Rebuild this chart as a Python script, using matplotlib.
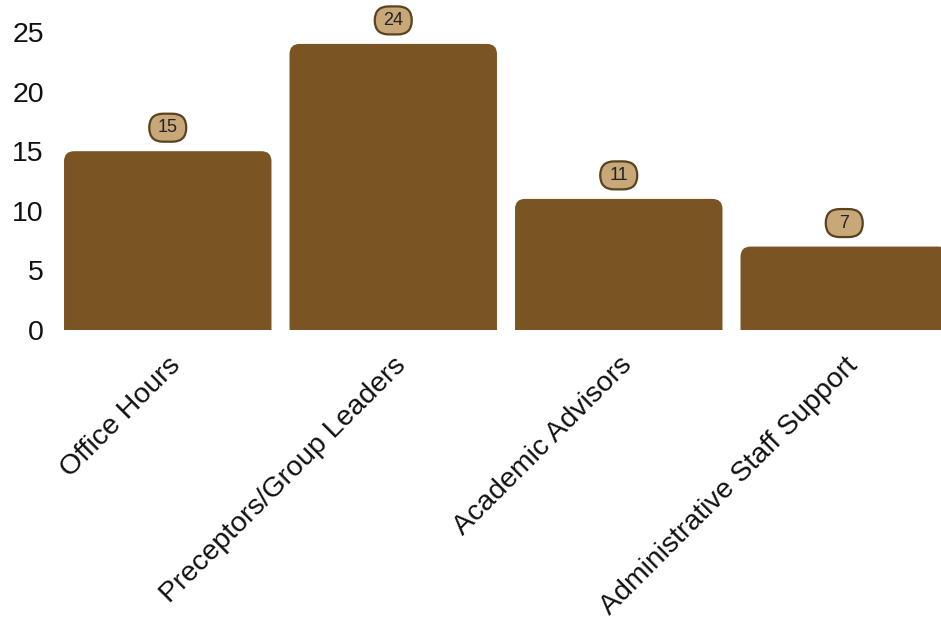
import numpy as np
import matplotlib.pyplot as plt
from matplotlib.path import Path
from matplotlib.patches import PathPatch, FancyBboxPatch
from matplotlib.transforms import ScaledTranslation

plt.rcParams['font.family'] = ['Liberation Sans', 'DejaVu Sans']

categories = ['Office Hours', 'Preceptors/Group Leaders', 'Academic Advisors',
              'Administrative Staff Support']
counts = [15, 24, 11, 7]

bar_color = '#7b5424'
box_face = '#c8a878'
box_edge = '#5a421e'


def rounded_top_bar(ax, x, h, w, rx, ry):
    # bar with rounded top corners, built in data coordinates
    l, r = x - w / 2, x + w / 2
    verts = [(l, 0), (l, h - ry), (l, h), (l + rx, h),
             (r - rx, h), (r, h), (r, h - ry), (r, 0), (l, 0)]
    codes = [Path.MOVETO, Path.LINETO, Path.CURVE3, Path.CURVE3,
             Path.LINETO, Path.CURVE3, Path.CURVE3, Path.LINETO, Path.CLOSEPOLY]
    ax.add_patch(PathPatch(Path(verts, codes), facecolor=bar_color,
                           edgecolor='none'))


fig = plt.figure(figsize=(9.41, 6.22), dpi=100)
ax = fig.add_axes([55 / 941, 1 - 330 / 622, 902 / 941, 298 / 622])

x = np.arange(len(categories))
width = 0.92
bw, bh, dy = 0.37, 0.28, 0.235  # label pill size and lift, inches
for xi, v in zip(x, counts):
    rounded_top_bar(ax, xi, v, width, 0.045, 0.85)
    anchor = fig.dpi_scale_trans + ScaledTranslation(xi, v, ax.transData)
    ax.add_artist(FancyBboxPatch((-bw / 2, dy - bh / 2), bw, bh,
                                 boxstyle='round,pad=0,rounding_size=0.14',
                                 transform=anchor, fc=box_face, ec=box_edge,
                                 lw=1.6, clip_on=False))
    ax.annotate(str(v), (xi, v), xytext=(0, dy * 72), textcoords='offset points',
                ha='center', va='center', fontsize=13, color='#222222',
                annotation_clip=False)

ax.set_xlim(-0.5, len(categories) - 0.5)
ax.set_ylim(0, 25)
ax.set_yticks([0, 5, 10, 15, 20, 25])
ax.set_xticks(x)
ax.set_xticklabels(categories, rotation=45, ha='right', rotation_mode='anchor')
ax.tick_params(axis='both', length=0, labelsize=20.5, colors='#111111')
ax.tick_params(axis='x', pad=16)
ax.tick_params(axis='y', pad=8)
for s in ax.spines.values():
    s.set_visible(False)

fig.savefig('out.png', dpi=100)
